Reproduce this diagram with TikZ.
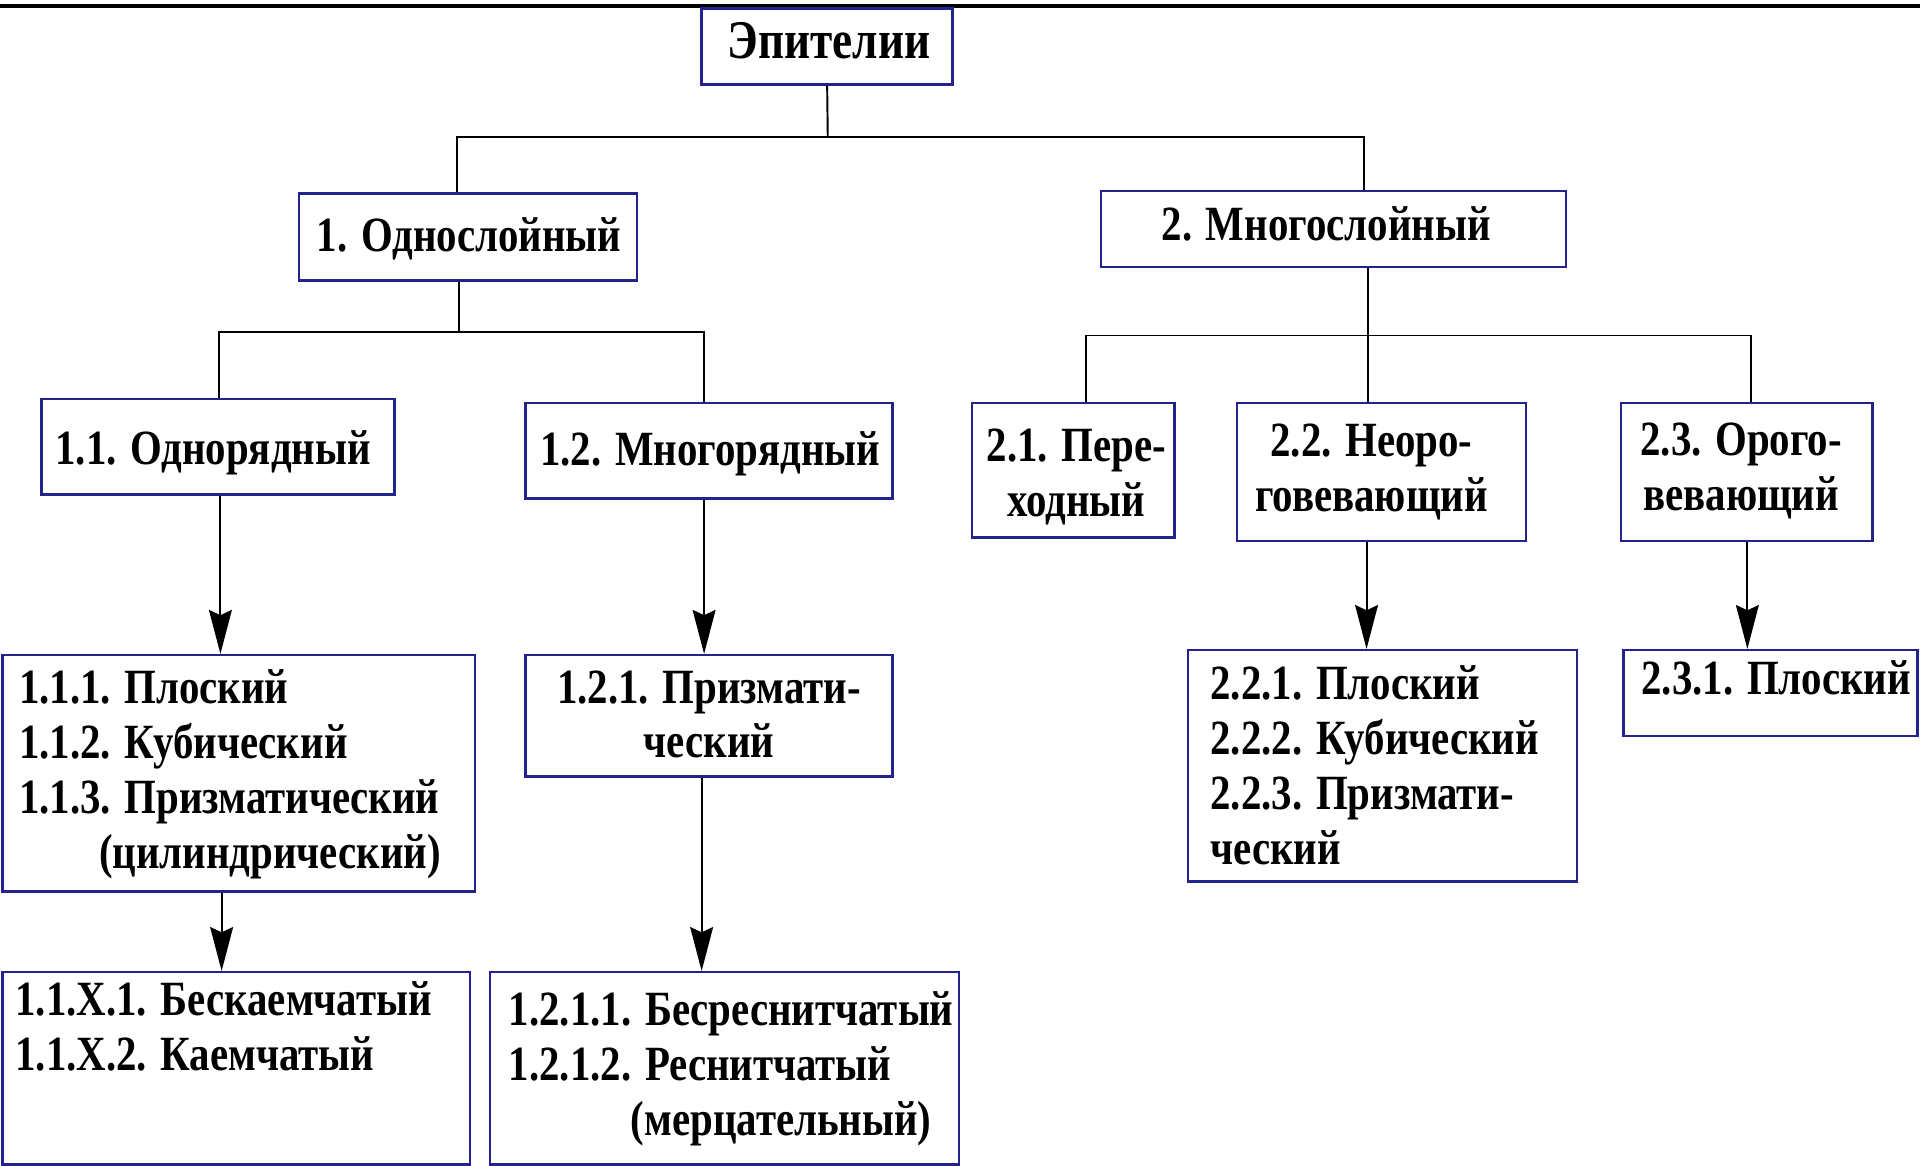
\documentclass[tikz,border=0pt]{standalone}
\usepackage{fontspec}
\setmainfont{Liberation Serif}[FakeStretch=0.83]
\usetikzlibrary{fit,arrows.meta}
\definecolor{navy}{RGB}{35,35,140}
\begin{document}
\begin{tikzpicture}[x=0.012245cm,y=-0.012245cm,
  box/.style={draw=navy, line width=0.7pt, inner sep=0pt},
  txt/.style={inner sep=0pt, font=\fontsize{14}{15.6}\selectfont\bfseries},
  con/.style={line width=0.55pt},
  arr/.style={con, -{Stealth[length=12.5pt,width=6.5pt,inset=1.5pt]}}]
\useasboundingbox (0,0) rectangle (1568,952);
% top rule
\coordinate (tl) at (0,5);
\coordinate (tr) at (1568,5);
\draw[line width=1pt] (tl) -- (tr);
% boxes
\node[box, fit={(573,7) (778,69)}] (root) {};
\node[box, fit={(244,158) (520,229)}] (n1) {};
\node[box, fit={(899,156) (1279,218)}] (n2) {};
\node[box, fit={(34,326) (322,404)}] (n11) {};
\node[box, fit={(429,329) (729,407)}] (n12) {};
\node[box, fit={(794,329) (959,439)}] (n21) {};
\node[box, fit={(1010,329) (1246,442)}] (n22) {};
\node[box, fit={(1324,329) (1529,442)}] (n23) {};
\node[box, fit={(2,535) (388,728)}] (n111) {};
\node[box, fit={(429,535) (729,634)}] (n121) {};
\node[box, fit={(970,531) (1288,720)}] (n221) {};
\node[box, fit={(1326,531) (1566,601)}] (n231) {};
\node[box, fit={(2,794) (384,951)}] (n11x) {};
\node[box, fit={(400,794) (783,951)}] (n1211) {};
% texts (multi-line nodes are placed by the baseline of their last line)
\node[txt, anchor=base, font=\fontsize{15.5}{17}\selectfont\bfseries] (t0) at (677,48) {Эпителии};
\node[txt, anchor=base] (t1) at (383,205) {1. Однослойный};
\node[txt, anchor=base] (t2) at (1083,196) {2. Многослойный};
\node[txt, anchor=base] (t11) at (174,379) {1.1. Однорядный};
\node[txt, anchor=base] (t12) at (580,380) {1.2. Многорядный};
\node[txt, anchor=base, align=center] (t21) at (879,422) {2.1. Пере-\\ходный};
\node[txt, anchor=base, align=center] (t22) at (1120,418) {2.2. Неоро-\\говевающий};
\node[txt, anchor=base, align=center] (t23) at (1422,417) {2.3. Орого-\\вевающий};
\node[txt, anchor=base west, align=left] (t111) at (15,709) {1.1.1. Плоский\\1.1.2. Кубический\\1.1.3. Призматический\\\hspace*{0.8cm}(цилиндрический)};
\node[txt, anchor=base, align=center] (t121) at (579,619) {1.2.1. Призмати-\\ческий};
\node[txt, anchor=base west, align=left] (t221) at (988,706) {2.2.1. Плоский\\2.2.2. Кубический\\2.2.3. Призмати-\\ческий};
\node[txt, anchor=base west] (t231) at (1340,567) {2.3.1. Плоский};
\node[txt, anchor=base west, align=left] (t11x) at (12,874) {1.1.X.1. Бескаемчатый\\1.1.X.2. Каемчатый};
\node[txt, anchor=base west, align=left] (t1211) at (415,927) {1.2.1.1. Бесреснитчатый\\1.2.1.2. Реснитчатый\\\hspace*{1.22cm}(мерцательный)};
% x positions of connectors
\coordinate (x373) at (373,0);
\coordinate (x1114) at (1114,0);
\coordinate (x179) at (179,0);
\coordinate (x575) at (575,0);
\coordinate (x887) at (887,0);
\coordinate (x1117) at (1117,0);
\coordinate (x1430) at (1430,0);
\coordinate (x180) at (180,0);
\coordinate (x181) at (181,0);
\coordinate (x573) at (573,0);
\coordinate (x1116) at (1116,0);
\coordinate (x1427) at (1427,0);
% junctions
\coordinate (j0) at (676,112);
\coordinate (j1) at (375,271);
\coordinate (j2) at (1117,274);
% tree lines
\draw[con] (root.south) -- (j0);
\draw[con] (j0) -| (n1.north -| x373);
\draw[con] (j0) -| (n2.north -| x1114);
\draw[con] (n1.south -| j1) -- (j1);
\draw[con] (j1) -| (n11.north -| x179);
\draw[con] (j1) -| (n12.north -| x575);
\draw[con] (n2.south -| j2) -- (j2);
\draw[con] (j2) -| (n21.north -| x887);
\draw[con] (j2) -- (n22.north -| x1117);
\draw[con] (j2) -| (n23.north -| x1430);
% arrows
\draw[arr] (n11.south -| x180) -- (n111.north -| x180);
\draw[arr] (n12.south -| x575) -- (n121.north -| x575);
\draw[arr] (n111.south -| x181) -- (n11x.north -| x181);
\draw[arr] (n121.south -| x573) -- (n1211.north -| x573);
\draw[arr] (n22.south -| x1116) -- (n221.north -| x1116);
\draw[arr] (n23.south -| x1427) -- (n231.north -| x1427);
\end{tikzpicture}
\end{document}
